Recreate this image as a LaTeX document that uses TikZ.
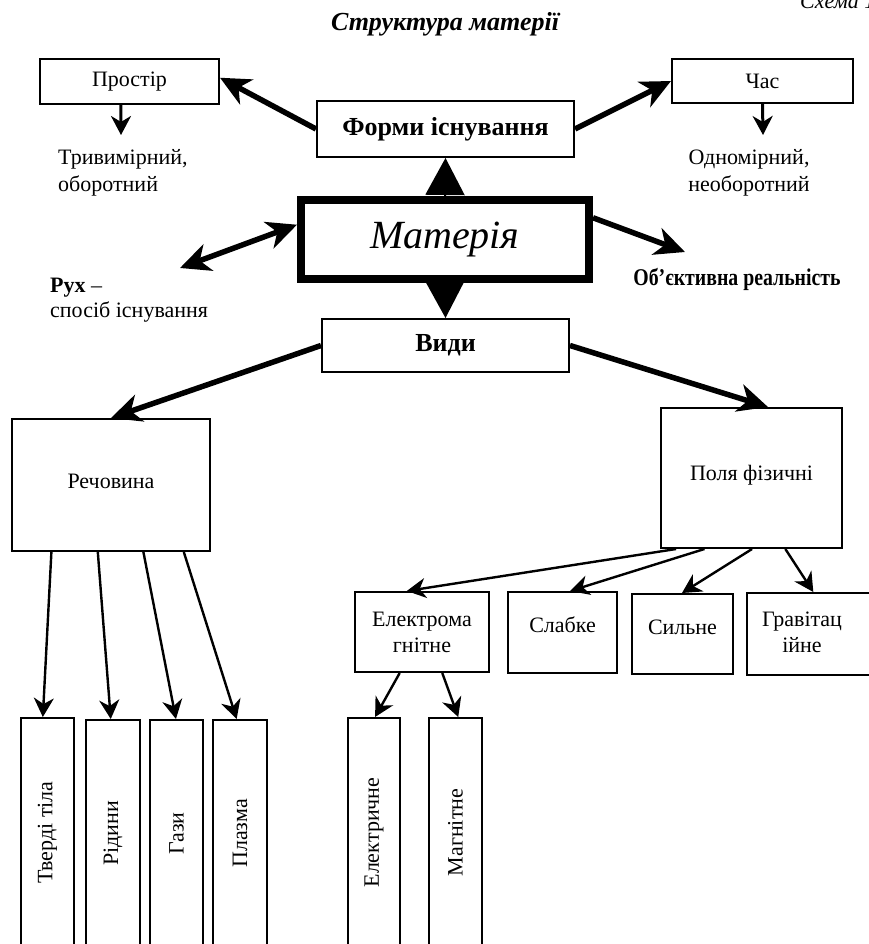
\documentclass[tikz,border=0pt]{standalone}
\usepackage{fontspec}
\setmainfont{Liberation Serif}
\usetikzlibrary{arrows.meta,calc}
\begin{document}
\begin{tikzpicture}[x=1pt,y=-1pt,
  box/.style={draw, line width=2pt, fill=white, inner sep=0pt, font=\fontsize{22}{26}\selectfont, align=center},
  thinarrow/.style={line width=2.4pt, -{Stealth[length=19pt,width=20pt,inset=6pt]}},
  thickarrow/.style={line width=5.5pt, -{Stealth[length=30pt,width=28pt,inset=9pt]}},
  thickboth/.style={line width=5.5pt, {Stealth[length=30pt,width=28pt,inset=9pt]}-{Stealth[length=30pt,width=28pt,inset=9pt]}},
  triarrow/.style={line width=2pt, -{Triangle[length=37pt,width=39pt]}},
  txt/.style={font=\fontsize{22}{27}\selectfont, inner sep=0pt}
]
\useasboundingbox (0,0) rectangle (869,944);
\clip (0,0) rectangle (869,944);

% headings
\node[anchor=base west, inner sep=0pt, font=\itshape\fontsize{22}{26}\selectfont] (schema) at (800,9) {Схема 1};
\node[inner sep=0pt, font=\bfseries\itshape\fontsize{26}{30}\selectfont] (title) at (445,24) {Структура матерії};

% top level
\node[box, minimum width=179pt, minimum height=45pt] (prost) at (129.5,81.5) {Простір};
\node[box, minimum width=257pt, minimum height=56pt, font=\bfseries\fontsize{26}{30}\selectfont] (form) at (445.5,129) {Форми існування};
\node[box, minimum width=181pt, minimum height=44pt] (chas) at (762.5,81) {Час};
\node[txt, anchor=west, align=left] (tryv) at (58,173) {Тривимірний,\\оборотний};
\node[txt, align=center] (odn) at (749,173) {Одномірний,\\необоротний};

\node[box, line width=8pt, minimum width=288pt, minimum height=79pt, font=\itshape\fontsize{40}{44}\selectfont] (mat) at (445,239.5) {\raisebox{-3pt}{Матерія}};
\node[txt, anchor=west, align=left, font=\fontsize{22}{25}\selectfont] (rux) at (50,300) {\textbf{Рух} –\\спосіб існування};
\node[txt, font=\bfseries\fontsize{24}{28}\selectfont] (obj) at (737,279) {\scalebox{0.825}[1]{Об’єктивна реальність}};

\node[box, minimum width=247pt, minimum height=53pt, font=\bfseries\fontsize{26}{30}\selectfont] (vydy) at (445.5,345.5) {Види};

% second level
\node[box, minimum width=198pt, minimum height=132pt] (rech) at (111,485) {\raisebox{8pt}{Речовина}};
\node[box, minimum width=181pt, minimum height=140pt] (pole) at (751.5,478) {\raisebox{11pt}{Поля фізичні}};

% fields
\node[box, minimum width=134pt, minimum height=80pt] (em) at (422,632) {Електрома\\гнітне};
\node[box, minimum width=109pt, minimum height=81pt] (slab) at (562.5,632.5) {\raisebox{15pt}{Слабке}};
\node[box, minimum width=101pt, minimum height=80pt] (syl) at (682.5,634) {\raisebox{14pt}{Сильне}};
\node[box, minimum width=125pt, minimum height=82pt] (grav) at (809.5,634) {\begin{tabular}{@{}c@{}}Гравітац\\ійне\end{tabular}\hspace*{15pt}};

% vertical boxes
\node[box, minimum width=53pt, minimum height=229pt] (tv) at (47.5,832.5) {\rotatebox{90}{Тверді тіла}};
\node[box, minimum width=54pt, minimum height=227pt] (rid) at (113,833.5) {\rotatebox{90}{Рідини}};
\node[box, minimum width=53pt, minimum height=227pt] (gaz) at (176.5,833.5) {\rotatebox{90}{Гази}};
\node[box, minimum width=54pt, minimum height=227pt] (plaz) at (240,833.5) {\rotatebox{90}{Плазма}};
\node[box, minimum width=52pt, minimum height=229pt] (el) at (374,832.5) {\rotatebox{90}{Електричне}};
\node[box, minimum width=53pt, minimum height=229pt] (mag) at (455.5,832.5) {\rotatebox{90}{Магнітне}};

% free ends
\coordinate (prostend) at (121,135);
\coordinate (chasend) at (763,135);
\coordinate (ruxend) at (180,268);
\coordinate (objend) at (685,252);

% connectors, top
\draw[thickarrow] (form.west) -- ($(prost.north east)!0.42!(prost.south east)$);
\draw[thickarrow] (form.east) -- ($(chas.north west)!0.5!(chas.south west)$);
\draw[thinarrow, line width=3pt] ($(prost.south west)!0.453!(prost.south east)$) -- (prostend);
\draw[thinarrow, line width=3pt] ($(chas.south west)!0.5!(chas.south east)$) -- (chasend);
\draw[triarrow] (mat.north) -- (form.south);
\draw[triarrow] (mat.south) -- (vydy.north);
\draw[thickboth] (ruxend) -- ($(mat.north west)!0.33!(mat.south west)$);
\draw[thickarrow] ($(mat.north east)!0.25!(mat.south east)$) -- (objend);
\draw[thickarrow] (vydy.west) -- (rech.north);
\draw[thickarrow] (vydy.east) -- ($(pole.north west)!0.59!(pole.north east)$);

% connectors, substance
\draw[thinarrow] ($(rech.south west)!0.202!(rech.south east)$) -- ($(tv.north west)!0.415!(tv.north east)$);
\draw[thinarrow] ($(rech.south west)!0.434!(rech.south east)$) -- ($(rid.north west)!0.46!(rid.north east)$);
\draw[thinarrow] ($(rech.south west)!0.662!(rech.south east)$) -- ($(gaz.north west)!0.49!(gaz.north east)$);
\draw[thinarrow] ($(rech.south west)!0.864!(rech.south east)$) -- ($(plaz.north west)!0.44!(plaz.north east)$);

% connectors, fields
\draw[thinarrow] ($(pole.south west)!0.088!(pole.south east)$) -- ($(em.north west)!0.388!(em.north east)$);
\draw[thinarrow] ($(pole.south west)!0.243!(pole.south east)$) -- ($(slab.north west)!0.569!(slab.north east)$);
\draw[thinarrow] ($(pole.south west)!0.503!(pole.south east)$) -- ($(syl.north west)!0.495!(syl.north east)$);
\draw[thinarrow] ($(pole.south west)!0.685!(pole.south east)$) -- ($(grav.north west)!0.53!(grav.north east)$);
\draw[thinarrow] ($(em.south west)!0.336!(em.south east)$) -- ($(el.north west)!0.52!(el.north east)$);
\draw[thinarrow] ($(em.south west)!0.649!(em.south east)$) -- ($(mag.north west)!0.55!(mag.north east)$);
\end{tikzpicture}
\end{document}
